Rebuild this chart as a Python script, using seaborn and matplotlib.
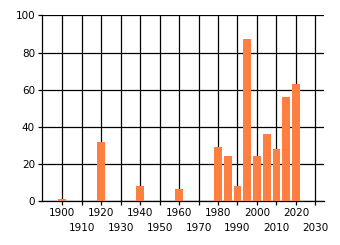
import matplotlib
matplotlib.use("Agg")
import matplotlib.pyplot as plt
import seaborn as sns
import pandas as pd

years = [1900, 1920, 1940, 1960, 1980, 1985, 1990, 1995, 2000, 2005, 2010, 2015, 2020]
values = [1.2, 32, 8, 6.5, 29, 24.3, 8, 87, 24.3, 36, 28, 56, 63]
xtick_upper = [1900, 1920, 1940, 1960, 1980, 2000, 2020]
xtick_lower = [1910, 1930, 1950, 1970, 1990, 2010, 2030]
ytick_values = [0, 20, 40, 60, 80, 100]

sns.set_theme(style="white")
plt.rcParams["font.family"] = ["DejaVu Sans"]

df = pd.DataFrame({"year": years, "value": values})

fig = plt.figure(figsize=(3.4, 2.45), dpi=100)
ax = fig.add_axes([42 / 340, 1 - 201.3 / 245, (324.3 - 42) / 340, (201.3 - 15.3) / 245])

sns.barplot(data=df, x="year", y="value", native_scale=True, width=0.8,
            color="#FF7F40", saturation=1, linewidth=0, ax=ax, zorder=3)

ax.set_xlim(1889.6, 2034.6)
ax.set_ylim(0, 100)
ax.set_xticks(xtick_upper)
ax.set_xticklabels([str(y) for y in xtick_upper])
ax.set_xticks(xtick_lower, minor=True)
ax.set_xticklabels([str(y) for y in xtick_lower], minor=True)
ax.set_yticks(ytick_values)
ax.set_axisbelow(True)
ax.grid(True, which="major", color="black", linewidth=0.9)
ax.grid(True, which="minor", axis="x", color="black", linewidth=0.9)
ax.set_xlabel("")
ax.set_ylabel("")
for s in ["top", "right"]:
    ax.spines[s].set_visible(False)
for s in ["left", "bottom"]:
    ax.spines[s].set_color("black")
    ax.spines[s].set_linewidth(0.9)
ax.tick_params(axis="both", which="both", direction="out", length=3, width=0.9,
               color="black", labelsize=7.5, labelcolor="black",
               left=True, bottom=True)
ax.tick_params(axis="x", which="major", pad=1.5)
ax.tick_params(axis="x", which="minor", pad=12.5)
ax.tick_params(axis="y", pad=2)

fig.savefig("out.png", dpi=100, facecolor="white")
